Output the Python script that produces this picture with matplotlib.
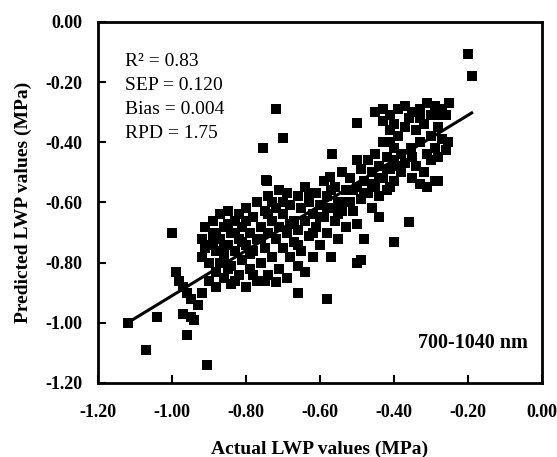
import matplotlib
matplotlib.use('Agg')
import matplotlib.pyplot as plt
import numpy as np

plt.rcParams['font.family'] = ['Liberation Serif', 'DejaVu Serif']

# actual / predicted LWP (MPa)
actual = [
    # sparse low end
    -1.12, -1.07, -1.04, -0.96, -0.905, -1.00, -0.99, -0.97, -0.95, -0.94,
    -0.98, -0.96, -0.93, -0.95, -0.92, -0.97,
    # lower-left blob
    -0.92, -0.92, -0.91, -0.90, -0.90, -0.90, -0.89, -0.89, -0.88, -0.88,
    -0.88, -0.87, -0.87, -0.86, -0.86, -0.86, -0.85, -0.85, -0.84, -0.84,
    -0.84, -0.83, -0.83, -0.82, -0.82, -0.82, -0.81, -0.81, -0.80, -0.80,
    -0.80, -0.79, -0.79, -0.78, -0.78, -0.77, -0.77, -0.77, -0.76, -0.76,
    -0.75, -0.75, -0.74, -0.74, -0.74,
    -0.91, -0.89, -0.87, -0.85, -0.85, -0.83, -0.83, -0.81, -0.80, -0.79,
    -0.78, -0.76, -0.75, -0.74, -0.73, -0.86, -0.88,
    # middle
    -0.73, -0.73, -0.72, -0.72, -0.71, -0.71, -0.71, -0.70, -0.70, -0.69,
    -0.69, -0.69, -0.68, -0.68, -0.67, -0.67, -0.66, -0.66, -0.65, -0.65,
    -0.64, -0.64, -0.64, -0.63, -0.63, -0.62, -0.62, -0.61, -0.61, -0.60,
    -0.60, -0.59, -0.59, -0.58, -0.58, -0.57, -0.57, -0.56, -0.56, -0.55,
    -0.55,
    -0.70, -0.68, -0.66, -0.63, -0.62, -0.60, -0.58, -0.57, -0.55,
    # upper middle
    -0.54, -0.54, -0.53, -0.53, -0.52, -0.52, -0.51, -0.50, -0.50, -0.49,
    -0.49, -0.48, -0.48, -0.47, -0.47, -0.46, -0.46, -0.45, -0.45, -0.44,
    -0.44, -0.43, -0.43, -0.42, -0.42, -0.41, -0.41, -0.40, -0.40,
    -0.53, -0.51, -0.48, -0.46, -0.44, -0.42, -0.40,
    # top band
    -0.45, -0.43, -0.41, -0.39, -0.37, -0.35, -0.33, -0.31, -0.29, -0.27,
    -0.25, -0.26, -0.30, -0.36,
    -0.40, -0.39, -0.38, -0.37, -0.37, -0.355, -0.35, -0.39, -0.38,
    -0.34, -0.33, -0.32, -0.31, -0.30, -0.29, -0.28, -0.27, -0.26, -0.255,
    -0.35, -0.33, -0.31, -0.29, -0.34,
    -0.43, -0.41, -0.33, -0.28, -0.30, -0.32, -0.28,
    # scattered outliers
    -0.72, -0.755, -0.745, -0.70, -0.50, -0.50, -0.568, -0.573,
    -0.66, -0.58, -0.72, -0.66, -0.50, -0.40, -0.36, -0.44, -0.49, -0.33,
    -0.28, -0.20, -0.19, -0.25, -0.255, -0.743, -0.69, -0.546, -0.51, -0.41,
]
predicted = [
    -1.00, -1.09, -0.98, -1.04, -1.14, -0.70, -0.83, -0.97, -0.98, -0.99,
    -0.86, -0.90, -0.94, -0.92, -0.90, -0.88,
    -0.72, -0.78, -0.68, -0.74, -0.80, -0.86, -0.66, -0.70, -0.76, -0.83,
    -0.88, -0.64, -0.72, -0.68, -0.78, -0.85, -0.63, -0.74, -0.70, -0.81,
    -0.87, -0.66, -0.76, -0.64, -0.72, -0.84, -0.68, -0.79, -0.62, -0.74,
    -0.88, -0.70, -0.82, -0.65, -0.76, -0.60, -0.72, -0.86, -0.68, -0.80,
    -0.63, -0.75, -0.58, -0.70, -0.84,
    -0.75, -0.73, -0.80, -0.67, -0.82, -0.70, -0.86, -0.73, -0.66, -0.77,
    -0.84, -0.72, -0.86, -0.64, -0.60, -0.75, -0.70,
    -0.66, -0.78, -0.62, -0.72, -0.56, -0.68, -0.82, -0.64, -0.75, -0.57,
    -0.70, -0.85, -0.61, -0.78, -0.66, -0.73, -0.58, -0.69, -0.62, -0.76,
    -0.55, -0.66, -0.83, -0.60, -0.71, -0.64, -0.78, -0.57, -0.68, -0.61,
    -0.74, -0.53, -0.65, -0.58, -0.70, -0.62, -0.78, -0.55, -0.66, -0.60,
    -0.72,
    -0.60, -0.67, -0.74, -0.57, -0.70, -0.65, -0.62, -0.56, -0.64,
    -0.50, -0.63, -0.56, -0.68, -0.52, -0.60, -0.63, -0.55, -0.67, -0.49,
    -0.59, -0.53, -0.72, -0.46, -0.57, -0.50, -0.62, -0.44, -0.55, -0.48,
    -0.58, -0.40, -0.52, -0.45, -0.56, -0.36, -0.49, -0.42, -0.53,
    -0.60, -0.56, -0.57, -0.54, -0.52, -0.49, -0.46,
    -0.30, -0.29, -0.31, -0.29, -0.28, -0.30, -0.29, -0.27, -0.28, -0.29,
    -0.27, -0.31, -0.31, -0.32,
    -0.34, -0.38, -0.44, -0.47, -0.35, -0.42, -0.45, -0.48, -0.50,
    -0.36, -0.40, -0.34, -0.44, -0.38, -0.42, -0.35, -0.39, -0.425, -0.40,
    -0.52, -0.54, -0.55, -0.53, -0.48,
    -0.33, -0.40, -0.32, -0.31, -0.46, -0.50, -0.45,
    -0.29, -0.42, -0.525, -0.385, -0.335, -0.46, -0.44, -0.515,
    -0.90, -0.92, -0.865, -0.81, -0.80, -0.73, -0.665, -0.65, -0.79, -0.54,
    -0.53, -0.107, -0.18, -0.27, -0.40, -0.53, -0.57, -0.625, -0.63, -0.55,
]

# regression line shown in the figure
fit_slope = 0.75
fit_intercept = -0.16
fit_x = [-1.12, -0.19]

stats_text = "R² = 0.83\nSEP = 0.120\nBias = 0.004\nRPD = 1.75"
band_label = "700-1040 nm"

ticks = [-1.20, -1.00, -0.80, -0.60, -0.40, -0.20, 0.00]

fig = plt.figure(figsize=(5.57, 4.57), dpi=100)
ax = fig.add_axes([0.176, 0.162, 0.797, 0.790])

ax.scatter(actual, predicted, marker='s', s=55, color='black', linewidths=0, zorder=3)
fx = np.array(fit_x)
ax.plot(fx, fit_slope * fx + fit_intercept, color='black', linewidth=2.2, zorder=4)

ax.set_xlim(-1.2, 0.0)
ax.set_ylim(-1.2, 0.0)
ax.set_xticks(ticks)
ax.set_yticks(ticks)
ax.set_xticklabels([f"{t:.2f}" for t in ticks], fontsize=13, fontweight='bold')
ax.set_yticklabels([f"{t:.2f}" for t in ticks], fontsize=13, fontweight='bold')
ax.tick_params(direction='in', length=6, width=1.5)
ax.tick_params(axis='x', pad=15)
ax.tick_params(axis='y', pad=11)

for sp in ax.spines.values():
    sp.set_linewidth(2)

ax.set_xlabel('Actual LWP values (MPa)', fontsize=14, fontweight='bold', labelpad=14)
ax.set_ylabel('Predicted LWP values (MPa)', fontsize=14, fontweight='bold', labelpad=10)

ax.text(0.06, 0.915, stats_text, transform=ax.transAxes, fontsize=14,
        va='top', ha='left', linespacing=1.55)
ax.text(0.968, 0.111, band_label, transform=ax.transAxes, fontsize=14.5,
        fontweight='bold', va='center', ha='right')

plt.savefig('out.png', dpi=100)
plt.close()
